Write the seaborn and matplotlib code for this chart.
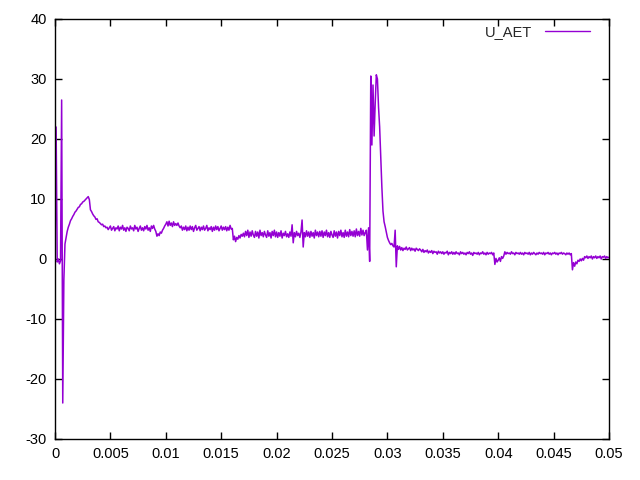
"""
U_AET signal trace, gnuplot-like look
"""

import numpy as np
import pandas as pd
import matplotlib
matplotlib.use("Agg")
import matplotlib.pyplot as plt
import seaborn as sns

# sampling of the trace
t_step = 0.0001

# U_AET values, one row per millisecond (10 samples each)
u_aet = [
    0.0, 22.0, -0.5, 0.0, -0.8, -0.3, 26.5, -24.0, -3.5, 2.5,
    3.6, 4.6, 5.3, 5.8, 6.4, 6.7, 7.1, 7.4, 7.8, 8.0,
    8.3, 8.6, 8.7, 9.1, 9.2, 9.5, 9.6, 9.8, 10.0, 10.2,
    10.4, 9.9, 8.2, 7.9, 7.5, 7.2, 7.0, 6.6, 6.7, 6.2,
    6.1, 5.9, 5.7, 5.8, 5.4, 5.5, 5.2, 5.3, 4.9, 5.2,
    5.5, 4.8, 5.1, 5.4, 4.7, 5.2, 5.0, 5.5, 4.7, 5.3,
    5.0, 5.6, 4.8, 5.2, 4.6, 5.3, 5.1, 4.7, 5.5, 5.0,
    5.2, 4.7, 5.6, 5.0, 5.3, 4.6, 5.1, 5.5, 4.8, 5.2,
    4.7, 5.4, 5.0, 5.6, 4.8, 5.2, 4.6, 5.5, 5.1, 5.6,
    5.0, 4.6, 3.8, 4.2, 3.9, 4.5, 4.3, 4.8, 5.1, 5.5,
    5.8, 6.2, 5.5, 6.3, 5.6, 6.0, 5.4, 6.2, 5.6, 5.9,
    5.6, 6.0, 5.5, 5.2, 5.5, 4.8, 5.3, 4.9, 5.5, 4.7,
    5.3, 4.8, 5.5, 4.9, 5.4, 4.6, 5.2, 5.6, 4.8, 5.1,
    5.4, 4.7, 5.3, 4.9, 5.5, 4.8, 5.1, 5.6, 4.7, 5.2,
    4.9, 5.4, 4.6, 5.3, 4.8, 5.5, 4.9, 5.4, 4.7, 5.1,
    5.5, 4.8, 5.3, 4.9, 5.4, 4.7, 5.3, 4.8, 5.6, 5.0,
    5.1, 3.2, 3.8, 2.9, 3.6, 3.3, 3.9, 3.5, 4.1, 3.8,
    4.3, 3.7, 4.6, 3.9, 4.8, 3.6, 4.5, 3.8, 4.7, 4.0,
    3.6, 4.6, 3.8, 4.5, 3.5, 4.8, 3.9, 4.4, 3.7, 4.6,
    4.0, 3.6, 4.7, 3.8, 4.4, 3.5, 4.6, 3.9, 4.8, 3.7,
    4.5, 3.6, 4.4, 3.8, 4.7, 3.5, 4.3, 3.9, 4.6, 3.7,
    4.2, 3.6, 4.5, 3.8, 5.7, 2.7, 4.4, 3.7, 4.6, 3.9,
    4.3, 3.6, 4.5, 6.5, 2.0, 4.4, 3.7, 4.7, 3.8, 4.5,
    3.6, 4.6, 3.8, 4.4, 3.5, 4.8, 3.9, 4.5, 3.7, 4.6,
    3.8, 4.7, 3.6, 4.5, 3.9, 4.8, 3.7, 4.4, 3.6, 4.6,
    4.0, 3.6, 4.7, 3.8, 4.5, 3.5, 4.6, 3.9, 4.8, 3.7,
    4.4, 3.6, 4.8, 3.8, 4.5, 3.7, 4.9, 3.9, 4.6, 3.8,
    4.7, 3.7, 5.0, 3.9, 4.6, 3.8, 5.1, 4.0, 4.8, 3.9,
    4.4, 4.8, 1.5, 5.2, -0.4, 30.5, 19.0, 29.0, 20.5, 26.0,
    30.7, 30.0, 25.3, 22.0, 17.0, 12.0, 8.0, 6.2, 5.4, 4.5,
    3.6, 3.1, 2.7, 2.4, 2.6, 2.2, 2.0, 4.8, -1.3, 2.2,
    1.6, 2.1, 1.5, 1.9, 1.4, 1.8, 1.6, 2.0, 1.5, 1.7,
    1.9, 1.4, 1.8, 1.5, 1.7, 1.3, 1.8, 1.6, 1.4, 1.7,
    1.5, 1.2, 1.6, 1.1, 1.4, 1.2, 1.5, 1.0, 1.3, 1.1,
    1.4, 0.9, 1.3, 1.1, 1.2, 0.8, 1.3, 1.0, 1.2, 0.9,
    1.2, 0.8, 1.1, 1.0, 1.3, 0.7, 1.1, 0.9, 1.2, 0.8,
    1.1, 0.8, 1.2, 0.9, 1.0, 0.7, 1.2, 0.9, 1.1, 0.8,
    1.0, 0.7, 1.1, 0.9, 1.2, 0.8, 1.0, 0.6, 1.1, 0.9,
    1.0, 0.8, 1.1, 0.7, 1.0, 0.9, 1.2, 0.8, 1.0, 0.7,
    1.1, 0.8, 1.0, 0.9, 1.1, 0.7, 1.0, -0.9, 0.1, -0.5,
    -0.2, 0.2, -0.4, 0.4, 0.1, 0.5, 1.2, 0.8, 1.1, 0.9,
    1.0, 0.8, 1.2, 0.9, 1.0, 0.7, 1.1, 0.9, 1.0, 0.8,
    1.1, 0.8, 1.0, 0.7, 1.1, 0.9, 1.0, 0.8, 1.1, 0.7,
    1.0, 0.8, 1.1, 0.9, 0.7, 1.0, 0.8, 1.1, 0.9, 1.0,
    0.8, 1.1, 0.7, 1.0, 0.9, 1.1, 0.8, 1.0, 0.7, 1.0,
    0.9, 1.1, 0.8, 1.0, 0.7, 1.0, 0.9, 1.1, 0.8, 1.0,
    0.9, 0.7, 1.0, 0.8, 1.0, 0.7, 0.9, -1.8, -0.6, -1.2,
    -0.5, -0.8, -0.2, -0.4, 0.0, -0.3, 0.1, -0.2, 0.4, 0.2,
    0.5, 0.1, 0.4, 0.2, 0.5, 0.0, 0.4, 0.2, 0.5, 0.1,
    0.4, 0.2, 0.5, 0.0, 0.4, 0.3, 0.5, 0.1, 0.4, 0.2,
    0.3,
]

x_ticks = [0, 0.005, 0.01, 0.015, 0.02, 0.025, 0.03, 0.035, 0.04, 0.045, 0.05]
x_labels = ["0", "0.005", "0.01", "0.015", "0.02", "0.025", "0.03", "0.035",
            "0.04", "0.045", "0.05"]
y_ticks = [-30, -20, -10, 0, 10, 20, 30, 40]

sns.set_theme(style="ticks")
plt.rcParams["font.family"] = ["Liberation Sans", "DejaVu Sans"]
plt.rcParams["axes.unicode_minus"] = False

df = pd.DataFrame({"t": np.arange(len(u_aet)) * t_step, "U_AET": u_aet})

fig = plt.figure(figsize=(6.4, 4.8), dpi=100)
ax = fig.add_axes([55 / 640, 1 - 439 / 480, 554 / 640, 420 / 480])

sns.lineplot(data=df, x="t", y="U_AET", ax=ax, color="#9400d3", lw=1.1,
             estimator=None, sort=False, label="U_AET")

ax.set_xlim(0, 0.05)
ax.set_ylim(-30, 40)
ax.set_xticks(x_ticks)
ax.set_xticklabels(x_labels)
ax.set_yticks(y_ticks)
ax.set_xlabel("")
ax.set_ylabel("")
for s in ax.spines.values():
    s.set_visible(True)
    s.set_linewidth(1.0)
    s.set_color("black")
ax.tick_params(direction="in", length=5, width=1, top=True, right=True,
               labelsize=10.5, colors="black", pad=6)

leg = ax.legend(loc="upper right", frameon=False, markerfirst=False,
                handlelength=3.1, fontsize=10.5, borderaxespad=0,
                handletextpad=0.9, bbox_to_anchor=(596 / 640, 1 - 19 / 480),
                bbox_transform=fig.transFigure)
for line in leg.get_lines():
    line.set_linewidth(1.0)

fig.savefig("out.png", dpi=100)
plt.close(fig)
